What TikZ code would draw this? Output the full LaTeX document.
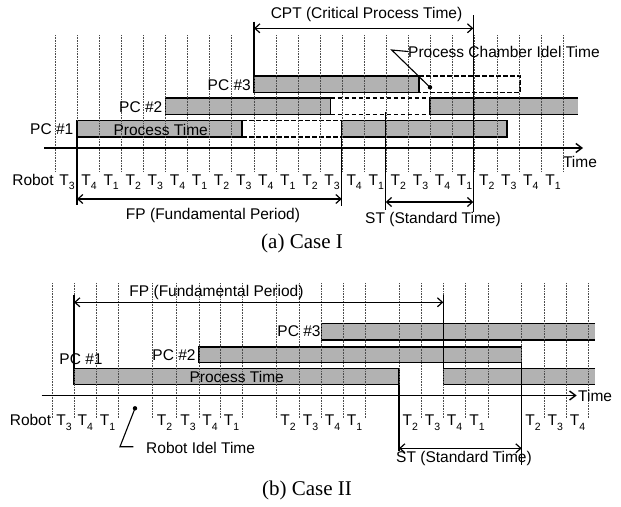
\documentclass[tikz,border=0pt]{standalone}
\usepackage{fontspec}
\setmainfont{Liberation Sans}
\newfontfamily\capfont{Liberation Serif}
\usetikzlibrary{arrows.meta}
\newcommand{\tk}[1]{T\raisebox{-0.32em}{\fontsize{10.5}{10.5}\selectfont #1}}
\tikzset{
  gd/.style={black!70,densely dotted,line width=0.6pt},
  br/.style={draw=black,line width=1.4pt,fill=black!30},
  brf/.style={fill=black!30},
  bd/.style={line width=1.4pt},
  idl/.style={line width=1.1pt,dash pattern=on 4.5pt off 2.5pt},
  vl/.style={line width=1.3pt},
  dm/.style={{Straight Barb[length=5pt,width=9pt]}-{Straight Barb[length=5pt,width=9pt]},line width=1.2pt},
  ax/.style={-{Straight Barb[length=6pt,width=9pt]},line width=1.4pt},
  lb/.style={font=\fontsize{15.5}{18}\selectfont,inner sep=0pt},
  tl/.style={font=\fontsize{15.5}{18}\selectfont,inner sep=0pt,anchor=base},
  cp/.style={font=\capfont\fontsize{21}{24}\selectfont,inner sep=0pt}
}
\begin{document}
\begin{tikzpicture}[x=1pt,y=-1pt]
\useasboundingbox (0,0) rectangle (621,506);
% (a) Case I
\draw[br] (254,76) rectangle (419,92.5);
\draw[idl] (419,76) -- (520,76) -- (520,92.5) -- (419,92.5);
\draw[br] (165.7,98) rectangle (330.7,114.5);
\draw[idl] (330.7,98) -- (430,98);
\draw[idl] (330.7,114.5) -- (430,114.5);
\fill[brf] (430,98) rectangle (578,114.5);
\draw[bd] (578,98) -- (430,98) -- (430,114.5) -- (578,114.5);
\draw[br] (77,120.5) rectangle (242,137);
\draw[idl] (242,120.5) -- (341.7,120.5);
\draw[idl] (242,137) -- (341.7,137);
\draw[br] (341.7,120.5) rectangle (507,137);
\foreach \k in {0,...,23}{\draw[gd] ({55+22.09*\k},35) -- ({55+22.09*\k},172);}
\coordinate (ax1) at (44,148);
\coordinate (ax2) at (583,148);
\draw[ax] (ax1) -- (ax2);
\node[lb] (time1) at (580,162) {Time};
\node[tl] (rob1) at (33,185) {Robot};
\foreach \k in {0,...,22}{\pgfmathtruncatemacro\ti{mod(\k+2,4)+1}\node[tl] (ta\k) at ({67+22.09*\k},185) {\tk{\ti}};}
\node[lb,anchor=east] (pc3a) at (251,85) {PC \#3};
\node[lb,anchor=east] (pc2a) at (162.5,107) {PC \#2};
\node[lb,anchor=east] (pc1a) at (73.5,129) {PC \#1};
\node[lb] (pta) at (160.7,129.5) {Process Time};
\coordinate (cpt1) at (254,28.3);
\coordinate (cpt2) at (473.3,28.3);
\draw[vl] (254,21.7) -- (254,76);
\draw[vl] (473.3,15) -- (473.3,212);
\draw[dm] (cpt1) -- (cpt2);
\node[lb] (cpt) at (366.5,14) {CPT (Critical Process Time)};
\draw[vl] (77,120.5) -- (77,205);
\draw[vl] (341.7,120.5) -- (341.7,206);
\draw[vl] (385.7,112) -- (385.7,210);
\coordinate (fp1) at (77,199);
\coordinate (fp2) at (341.7,199);
\draw[dm] (fp1) -- (fp2);
\node[lb] (fpa) at (213,215) {FP (Fundamental Period)};
\coordinate (st1) at (385.7,202);
\coordinate (st2) at (473.3,202);
\draw[dm] (st1) -- (st2);
\node[lb] (sta) at (433,219) {ST (Standard Time)};
\coordinate (pci) at (430,87.3);
\coordinate (pcc) at (391.7,50);
\node[lb,anchor=west] (pcil) at (408,51.5) {Process Chamber Idel Time};
\fill (pci) circle (2.2pt);
\draw[line width=1.1pt] (pci) -- (pcc) -- (pcil.west);
\node[cp] (capa) at (302,243) {(a) Case I};
% (b) Case II
\draw[br] (74,368.5) rectangle (399,384.7);
\fill[brf] (443.3,368.5) rectangle (595,384.7);
\draw[bd] (595,368.5) -- (443.3,368.5) -- (443.3,384.7) -- (595,384.7);
\draw[br] (199,347) rectangle (521.7,362.7);
\fill[brf] (321.7,323.3) rectangle (595,340);
\draw[bd] (595,323.3) -- (321.7,323.3) -- (321.7,340) -- (595,340);
\foreach \xx in {52.3,74,96.7,118.3,152.3,176.7,199,220.7,242.3,276.7,299.3,321.7,343.3,365.7,399,421.7,443.3,465.7,488.3,521.7,544,566.7,588.3}{\draw[gd] (\xx,283) -- (\xx,418);}
\coordinate (bx1) at (41.7,395.5);
\coordinate (bx2) at (576.7,395.5);
\draw[ax] (bx1) -- (bx2);
\node[lb,anchor=west] (time2) at (578,396) {Time};
\node[tl] (rob2) at (30.5,425.5) {Robot};
\foreach \xx/\ti [count=\k] in {64/3,85.3/4,107.5/1,164.5/2,188/3,210/4,231.5/1,288/2,310.5/3,332.5/4,354.5/1,410.3/2,432.5/3,454.5/4,477/1,533/2,555.3/3,577.5/4}{\node[tl] (tb\k) at (\xx,425.5) {\tk{\ti}};}
\node[lb] (pc1b) at (81,359.3) {PC \#1};
\node[lb] (pc2b) at (174,355) {PC \#2};
\node[lb] (pc3b) at (299,331) {PC \#3};
\node[lb] (ptb) at (236.7,377.3) {Process Time};
\draw[vl] (74,295) -- (74,368.5);
\draw[vl] (443.3,295) -- (443.3,368.5);
\draw[vl] (399,384.7) -- (399,451);
\draw[vl] (521.7,362.7) -- (521.7,465);
\coordinate (fp3) at (74,302.3);
\coordinate (fp4) at (443.3,302.3);
\draw[dm] (fp3) -- (fp4);
\node[lb] (fpb) at (216.5,292.5) {FP (Fundamental Period)};
\coordinate (st3) at (399,448.3);
\coordinate (st4) at (521.7,448.3);
\draw[dm] (st3) -- (st4);
\node[lb] (stb) at (464,458.3) {ST (Standard Time)};
\coordinate (rbi) at (135,408.3);
\coordinate (rbc) at (120,446.7);
\coordinate (rbe) at (133.3,446.7);
\fill (rbi) circle (2.2pt);
\draw[line width=1.1pt] (rbi) -- (rbc) -- (rbe);
\node[lb,anchor=west] (rbl) at (146,448) {Robot Idel Time};
\node[cp] (capb) at (307,490) {(b) Case II};
\end{tikzpicture}
\end{document}
